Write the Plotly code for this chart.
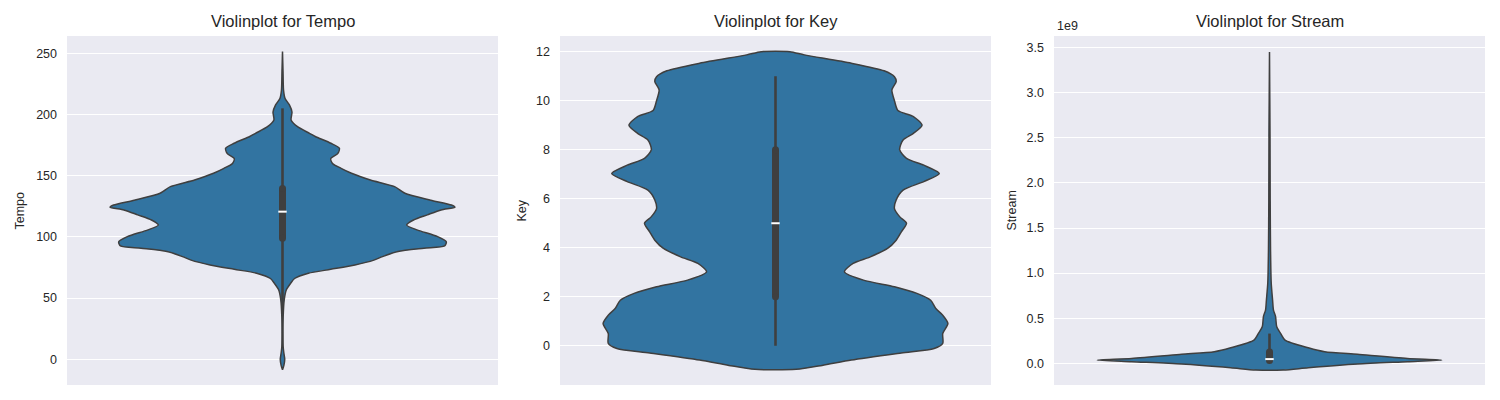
import plotly.graph_objects as go

# violin outlines: value and relative half-width (1 = widest)
tempo_y = [-8.5, -5, 0, 5, 10, 20, 35, 48.5, 56.6, 62, 66, 70.3, 73.5, 77, 81, 83.9, 88, 90.7,
           92.6, 96, 100.2, 105.7, 109.7, 113.8, 118, 122, 124.2, 126, 130, 135.6, 141,
           146.5, 152, 156, 160, 164, 168, 172.4, 176.5, 182, 184.6, 190, 195.5, 202,
           207.8, 213, 220, 235, 251.5]
tempo_w = [0, 0.008, 0.013, 0.008, 0.004, 0.003, 0.004, 0.01, 0.022, 0.047, 0.07, 0.15, 0.28,
           0.42, 0.53, 0.58, 0.67, 0.82, 0.94, 0.95, 0.90, 0.78, 0.72, 0.76, 0.84, 0.92,
           1.0, 0.98, 0.86, 0.71, 0.65, 0.51, 0.40, 0.34, 0.29, 0.28, 0.32, 0.33, 0.28,
           0.19, 0.157, 0.087, 0.05, 0.055, 0.04, 0.015, 0.006, 0.003, 0]

key_y = [-0.96, -0.8, -0.58, -0.29, -0.11, 0.1, 0.5, 0.91, 1.25, 1.52, 1.86, 2.14, 2.41,
         2.68, 3.02, 3.36, 3.63, 3.97, 4.31, 4.65, 5.0, 5.27, 5.6, 5.95, 6.35, 6.7, 7.03,
         7.37, 7.65, 8.0, 8.4, 8.67, 9.0, 9.35, 9.6, 10.0, 10.44, 10.78, 10.98, 11.22,
         11.53, 11.87, 12.0]
key_w = [0.12, 0.27, 0.44, 0.73, 0.92, 0.97, 0.97, 1.0, 0.97, 0.93, 0.90, 0.82, 0.69,
         0.51, 0.40, 0.45, 0.55, 0.65, 0.70, 0.73, 0.76, 0.72, 0.69, 0.70, 0.74, 0.86, 0.95,
         0.86, 0.76, 0.72, 0.74, 0.80, 0.85, 0.80, 0.71, 0.69, 0.675, 0.70, 0.69, 0.63,
         0.44, 0.167, 0.083]

# stream in units of 1e9
stream_y = [-0.074, -0.049, -0.008, 0.018, 0.037, 0.055, 0.10, 0.129, 0.173, 0.258, 0.33,
            0.405, 0.52, 0.59, 0.70, 0.89, 1.26, 1.8, 2.5, 3.45]
stream_w = [0.08, 0.225, 0.51, 0.80, 1.0, 0.80, 0.51, 0.32, 0.225, 0.09, 0.065,
            0.042, 0.035, 0.023, 0.018, 0.010, 0.006, 0.004, 0.003, 0]

# inner box: whisker low, q1, median, q3, whisker high
tempo_box = [37, 98.9, 120.6, 139.5, 205]
key_box = [0, 2, 5, 8, 11]
stream_box = [0.003, 0.031, 0.047, 0.127, 0.33]

names = ['Tempo', 'Key', 'Stream']
profiles = [(tempo_y, tempo_w, tempo_box), (key_y, key_w, key_box), (stream_y, stream_w, stream_box)]

FILL = '#3274a1'
EDGE = '#3f3f3f'
TXT = '#262626'
FONT = 'Liberation Sans, Arial, sans-serif'

W, H = 1500, 400
OFF = 8  # page body margin, positions below are in screen pixels


def px(v):
    return (v - OFF) / W


def py(v):
    return 1 - (v - OFF) / H


x_doms = [[px(67), px(498)], [px(560), px(991)], [px(1054), px(1485)]]
y_dom = [py(385), py(36)]
y_ranges = [[-21.0, 264.1], [-1.60, 12.64], [-0.24, 3.628]]
y_ticks = [[0, 50, 100, 150, 200, 250],
           [0, 2, 4, 6, 8, 10, 12],
           [0, 0.5, 1.0, 1.5, 2.0, 2.5, 3.0, 3.5]]
tick_text = [[str(v) for v in y_ticks[0]],
             [str(v) for v in y_ticks[1]],
             [f'{v:.1f}' for v in y_ticks[2]]]
label_x = [19, 521, 1011]

fig = go.Figure()

for i, (ys, ws, box) in enumerate(profiles):
    ax = '' if i == 0 else str(i + 1)
    # right side upward, left side downward, then back to the start
    xs = [w * 0.4 for w in ws] + [-w * 0.4 for w in ws[::-1]] + [ws[0] * 0.4]
    yy = list(ys) + list(ys[::-1]) + [ys[0]]
    # violin body
    fig.add_trace(go.Scatter(
        x=xs, y=yy, xaxis='x' + ax, yaxis='y' + ax,
        mode='lines', fill='toself', fillcolor=FILL,
        line=dict(color=EDGE, width=1.5, shape='spline', smoothing=0.7),
        hoverinfo='skip', showlegend=False,
    ))
    # whiskers
    fig.add_trace(go.Scatter(
        x=[0, 0], y=[box[0], box[4]], xaxis='x' + ax, yaxis='y' + ax,
        mode='lines', line=dict(color=EDGE, width=2.6),
        hoverinfo='skip', showlegend=False,
    ))
    # box (round ends)
    fig.add_trace(go.Scatter(
        x=[0, 0], y=[box[1], box[3]], xaxis='x' + ax, yaxis='y' + ax,
        mode='lines+markers', line=dict(color=EDGE, width=7),
        marker=dict(color=EDGE, size=7, symbol='circle', line=dict(width=0)),
        hoverinfo='skip', showlegend=False,
    ))
    # median
    fig.add_trace(go.Scatter(
        x=[0], y=[box[2]], xaxis='x' + ax, yaxis='y' + ax,
        mode='markers',
        marker=dict(symbol='line-ew', size=6, line=dict(color='white', width=2)),
        hoverinfo='skip', showlegend=False,
    ))

    fig.update_layout(**{
        'xaxis' + ax: dict(domain=x_doms[i], range=[-0.5, 0.5], showticklabels=False,
                          showgrid=False, zeroline=False, anchor='y' + ax),
        'yaxis' + ax: dict(domain=y_dom, range=y_ranges[i], tickvals=y_ticks[i],
                          ticktext=tick_text[i], showgrid=True, gridcolor='white',
                          gridwidth=1, zeroline=False, ticks='', ticklabelstandoff=9,
                          tickfont=dict(size=12.5, color=TXT, family=FONT),
                          anchor='x' + ax),
    })

    cx = (x_doms[i][0] + x_doms[i][1]) / 2
    fig.add_annotation(x=cx, y=py(21.5), xref='paper', yref='paper',
                       text=f'Violinplot for {names[i]}', showarrow=False,
                       xanchor='center', yanchor='middle',
                       font=dict(size=16.5, color=TXT, family=FONT))
    fig.add_annotation(x=px(label_x[i]), y=py(210.5), xref='paper', yref='paper',
                       text=names[i], showarrow=False, textangle=-90,
                       xanchor='center', yanchor='middle',
                       font=dict(size=12.5, color=TXT, family=FONT))

fig.add_annotation(x=px(1055), y=py(26), xref='paper', yref='paper',
                   text='1e9', showarrow=False, xanchor='left', yanchor='middle',
                   font=dict(size=12.5, color=TXT, family=FONT))

fig.update_layout(
    width=W, height=H,
    margin=dict(l=0, r=0, t=0, b=0),
    paper_bgcolor='white',
    plot_bgcolor='#eaeaf2',
)

fig.write_html('out.html')
